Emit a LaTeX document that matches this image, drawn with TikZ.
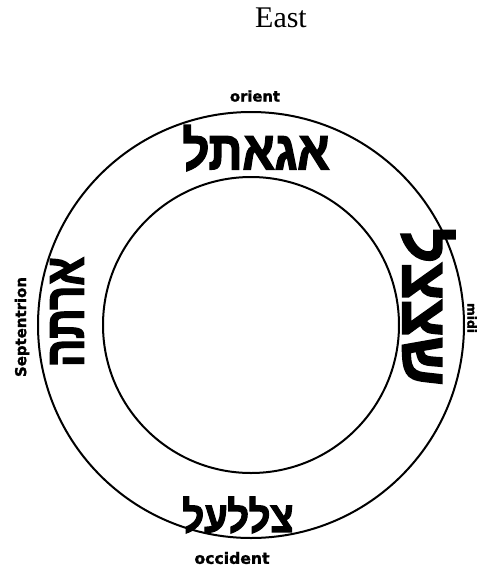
\documentclass[tikz,border=0pt]{standalone}
\usepackage{fontspec}
\usepackage{graphicx}
\setmainfont{Liberation Serif}
\newfontfamily\hebfont[Script=Hebrew, FakeBold=3]{Liberation Sans}
\newfontfamily\handfont[FakeBold=1.5]{DejaVu Sans}
\TeXXeTstate=1
\tikzset{
  ring/.style={draw=black, line width=2pt},
  hebname/.style={inner sep=0pt, font=\hebfont\bfseries},
  quarter/.style={inner sep=0pt, font=\handfont\bfseries},
}
\begin{document}
\begin{tikzpicture}[x=1pt,y=-1pt]
\useasboundingbox (0,0) rectangle (488,571);
\coordinate (c) at (251,325);
\draw[ring] (c) circle[radius=213pt];
\draw[ring] (c) circle[radius=148pt];
\node[inner sep=0pt, font=\fontsize{30}{32}\selectfont] (east) at (281,18) {East};
\node[quarter] (orient) at (255,96) {\resizebox{50pt}{!}{orient}};
\node[quarter] (occident) at (232,558) {\resizebox{75pt}{!}{occident}};
\node[quarter, rotate=90] (sept) at (22,327) {\resizebox{100pt}{!}{Septentrion}};
\node[quarter, rotate=-90] (midi) at (472,318) {\resizebox{30pt}{!}{midi}};
\node[hebname] (top) at (256,148) {\resizebox{147pt}{44pt}{\beginR אגאתל\endR}};
\node[hebname, rotate=-90] (right) at (428,307) {\resizebox{157pt}{52pt}{\beginR שצצל\endR}};
\node[hebname, rotate=90] (left) at (67,312) {\resizebox{110pt}{33pt}{\beginR ארתה\endR}};
\node[hebname] (bottom) at (238,515) {\resizebox{111pt}{35pt}{\beginR צללעל\endR}};
\end{tikzpicture}
\end{document}
